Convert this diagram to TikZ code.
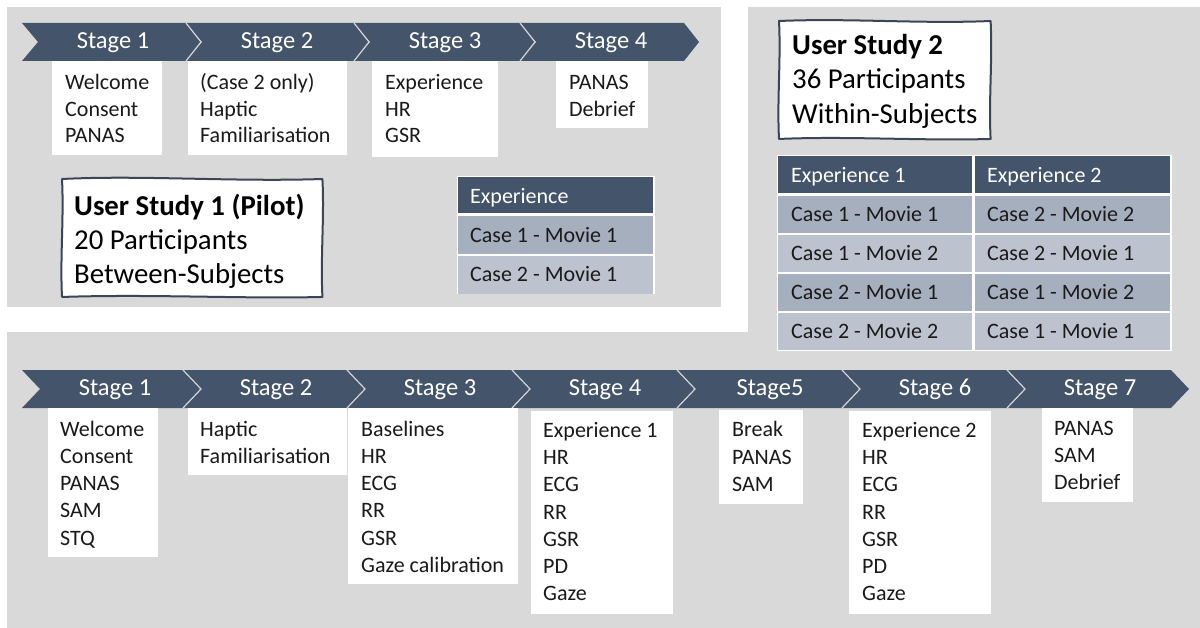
\documentclass[tikz,border=0pt]{standalone}
\usepackage{fontspec}
\setmainfont{Carlito}
\usetikzlibrary{calc}
\definecolor{panelgrey}{HTML}{D9D9D9}
\definecolor{slate}{HTML}{44546A}
\definecolor{sepline}{HTML}{D2D5DA}
\definecolor{rowa}{HTML}{A6AFBE}
\definecolor{rowb}{HTML}{BCC3CE}
\definecolor{txtdark}{HTML}{1A1A1A}
\definecolor{sketchc}{HTML}{3B4557}
\newcommand\stgfont{\fontsize{24.5bp}{29bp}\selectfont}
\newcommand\bodyfontA{\fontsize{22bp}{26.6bp}\selectfont}
\newcommand\bodyfontB{\fontsize{22bp}{27.2bp}\selectfont}
\newcommand\studyfont{\fontsize{28.8bp}{34.3bp}\selectfont}
\newcommand\cellfont{\fontsize{22bp}{26bp}\selectfont}
\newcommand\fstA{\rule{0pt}{20bp}}
\newcommand\fstS{\rule{0pt}{25bp}}
\begin{document}
\begin{tikzpicture}[x=1bp,y=-1bp,
  panel/.style={fill=panelgrey},
  sepstroke/.style={draw=sepline, line width=1.2bp},
  stagelbl/.style={anchor=base, inner sep=0, text=white, font=\stgfont},
  wbox/.style 2 args={anchor=north west, fill=white, draw=none, inner sep=0, minimum width=#1, minimum height=#2},
  cellbox/.style 2 args={anchor=north west, draw=none, inner sep=0, minimum width=#1, minimum height=#2},
  btxtA/.style={anchor=north west, inner sep=0, align=left, font=\bodyfontA, text=txtdark},
  btxtB/.style={anchor=north west, inner sep=0, align=left, font=\bodyfontB, text=txtdark},
  stxt/.style={anchor=north west, inner sep=0, align=left, font=\studyfont, text=black},
  celltxt/.style={anchor=base west, inner sep=0, font=\cellfont, text=txtdark},
  headtxt/.style={anchor=base west, inner sep=0, font=\cellfont, text=white},
  sketch/.style={draw=sketchc, line width=2bp, line cap=round, line join=round}
]
\useasboundingbox (0,0) rectangle (1200,628);
% panels
\fill[panel] (7,7) rectangle (721,307);
\fill[panel] (748,7) -- (1200,7) -- (1200,628) -- (7,628) -- (7,332) -- (748,332) -- cycle;

% ---------- top process (User Study 1) ----------
\foreach \a/\b/\lbl [count=\i] in {22/186/Stage 1,186/354/Stage 2,354/520/Stage 3,520/684/Stage 4}{
  \fill[slate] (\a,23) -- (\b,23) -- (\b+15,42) -- (\b,61) -- (\a,61) -- (\a+16,42) -- cycle;
  \node[stagelbl] (ts\i) at (\a+91,48.5) {\lbl};
}
\foreach \b in {186,354,520}{
  \draw[sepstroke] (\b,23) -- (\b+15,42) -- (\b,61);
}
\node[wbox={110}{94}] (tb1) at (52,61) {};
\node[wbox={159}{94}] (tb2) at (188,61) {};
\node[wbox={126}{96}] (tb3) at (372,61) {};
\node[wbox={92}{67}] (tb4) at (556,61) {};
\node[btxtA] (tt1) at (65,69.3) {\fstA Welcome\\Consent\\PANAS};
\node[btxtA] (tt2) at (200,69.3) {\fstA (Case 2 only)\\Haptic\\Familiarisation};
\node[btxtA] (tt3) at (385,69.3) {\fstA Experience\\HR\\GSR};
\node[btxtA] (tt4) at (569,69.3) {\fstA PANAS\\Debrief};

% study 1 box
\node[wbox={261}{118}] (us1) at (62,179) {};
\draw[sketch] (us1.north west) .. controls +(80,-4) and +(-90,3) .. (us1.north east)
  .. controls +(2,40) and +(-2,-40) .. (us1.south east)
  .. controls +(-80,2) and +(90,-3) .. (us1.south west)
  .. controls +(-2,-40) and +(2,40) .. cycle;
\node[stxt] (us1t) at (74,190) {\fstS\textbf{User Study 1 (Pilot)}\\20 Participants\\Between-Subjects};

% study 1 table
\fill[white] (457,176) rectangle (655,294);
\node[cellbox={196}{36}, fill=slate] (e0) at (458,177) {};
\node[cellbox={196}{38}, fill=rowa] (e1) at (458,216) {};
\node[cellbox={196}{38}, fill=rowb] (e2) at (458,255.5) {};
\node[headtxt] (e0t) at (470,203.3) {Experience};
\node[celltxt] (e1t) at (470,242.7) {Case 1 - Movie 1};
\node[celltxt] (e2t) at (470,281.2) {Case 2 - Movie 1};

% ---------- study 2 ----------
\node[wbox={212}{118}] (us2) at (779,21) {};
\draw[sketch] (us2.north west) .. controls +(70,-3) and +(-70,3) .. (us2.north east)
  .. controls +(2,40) and +(-2,-40) .. (us2.south east)
  .. controls +(-70,2) and +(70,-3) .. (us2.south west)
  .. controls +(-2,-40) and +(2,40) .. cycle;
\node[stxt] (us2t) at (792,29.3) {\fstS\textbf{User Study 2}\\36 Participants\\Within-Subjects};

\fill[white] (777,155) rectangle (1172,351);
\node[cellbox={195}{37}, fill=slate] (h1) at (778,156) {};
\node[cellbox={196}{37}, fill=slate] (h2) at (975,156) {};
\node[headtxt] (h1t) at (791,182.7) {Experience 1};
\node[headtxt] (h2t) at (987,182.7) {Experience 2};
\foreach \y/\c/\ta/\tb [count=\i] in {
  196/rowa/Case 1 - Movie 1/Case 2 - Movie 2,
  235/rowb/Case 1 - Movie 2/Case 2 - Movie 1,
  274/rowa/Case 2 - Movie 1/Case 1 - Movie 2,
  313/rowb/Case 2 - Movie 2/Case 1 - Movie 1}{
  \node[cellbox={195}{37}, fill=\c] (r\i a) at (778,\y) {};
  \node[cellbox={196}{37}, fill=\c] (r\i b) at (975,\y) {};
  \node[celltxt] (r\i at) at (791,\y+25.5) {\ta};
  \node[celltxt] (r\i bt) at (987,\y+25.5) {\tb};
}

% ---------- bottom process (User Study 2) ----------
\foreach \a/\b/\lbl [count=\i] in {22/183/Stage 1,183/347/Stage 2,347/512/Stage 3,512/677/Stage 4,677/842/Stage5,842/1007/Stage 6,1007/1171/Stage 7}{
  \fill[slate] (\a,370) -- (\b,370) -- (\b+18,389) -- (\b,408) -- (\a,408) -- (\a+18,389) -- cycle;
  \node[stagelbl] (bs\i) at (\a+93,395) {\lbl};
}
\foreach \b in {183,347,512,677,842,1007}{
  \draw[sepstroke] (\b,370) -- (\b+18,389) -- (\b,408);
}
\node[wbox={110}{149}] (bb1) at (48,408) {};
\node[wbox={159}{67}] (bb2) at (188,408) {};
\node[wbox={170}{176}] (bb3) at (348,408) {};
\node[wbox={142}{204}] (bb4) at (531,411) {};
\node[wbox={84}{94}] (bb5) at (719,410) {};
\node[wbox={142}{204}] (bb6) at (849,411) {};
\node[wbox={91}{94}] (bb7) at (1042,408) {};
\node[btxtB] (bt1) at (60,416) {\fstA Welcome\\Consent\\PANAS\\SAM\\STQ};
\node[btxtB] (bt2) at (200,416) {\fstA Haptic\\Familiarisation};
\node[btxtB] (bt3) at (361,416) {\fstA Baselines\\HR\\ECG\\RR\\GSR\\Gaze calibration};
\node[btxtB] (bt4) at (543,417.3) {\fstA Experience 1\\HR\\ECG\\RR\\GSR\\PD\\Gaze};
\node[btxtB] (bt5) at (732,416.7) {\fstA Break\\PANAS\\SAM};
\node[btxtB] (bt6) at (862,417.3) {\fstA Experience 2\\HR\\ECG\\RR\\GSR\\PD\\Gaze};
\node[btxtB] (bt7) at (1054,415) {\fstA PANAS\\SAM\\Debrief};
\end{tikzpicture}
\end{document}
